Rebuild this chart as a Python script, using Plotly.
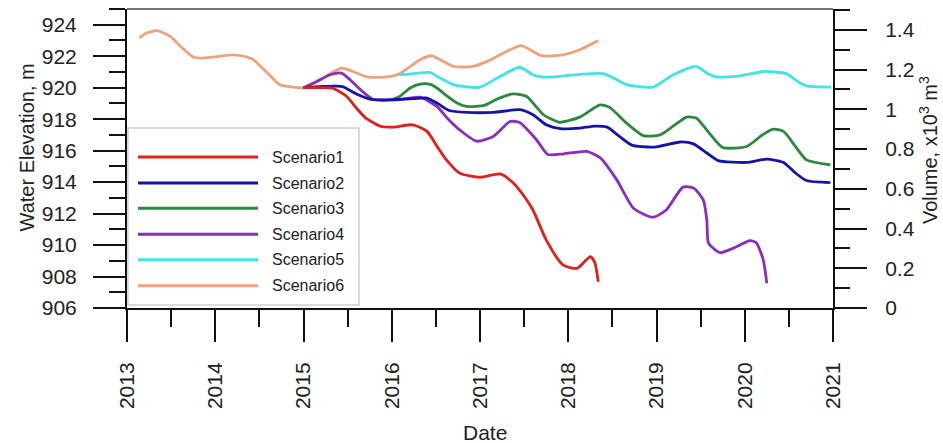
import plotly.graph_objects as go

# ---------------- data ----------------
s1_x = [2015.0, 2015.2, 2015.34, 2015.49, 2015.6, 2015.70, 2015.87, 2016.02, 2016.24, 2016.40, 2016.51,
        2016.62, 2016.77, 2017.0, 2017.23, 2017.38, 2017.50, 2017.60, 2017.75, 2017.94, 2018.10, 2018.25,
        2018.30, 2018.34]
s1_y = [920.0, 920.0, 919.95, 919.44, 918.7, 918.1, 917.55, 917.5, 917.64, 917.22, 916.3,
        915.41, 914.57, 914.31, 914.52, 913.93, 913.1, 912.23, 910.33, 908.74, 908.52, 909.26,
        908.9, 907.67]

s2_x = [2015.0, 2015.2, 2015.38, 2015.45, 2015.60, 2015.77, 2016.06, 2016.25, 2016.40, 2016.52, 2016.65,
        2016.85, 2017.15, 2017.45, 2017.60, 2017.75, 2017.91, 2018.13, 2018.30, 2018.44, 2018.58, 2018.72,
        2018.96, 2019.27, 2019.42, 2019.57, 2019.70, 2020.02, 2020.25, 2020.44, 2020.57, 2020.70, 2020.97]
s2_y = [920.0, 920.08, 920.1, 920.05, 919.6, 919.25, 919.25, 919.3, 919.34, 919.0, 918.55,
        918.43, 918.43, 918.6, 918.28, 917.64, 917.4, 917.43, 917.56, 917.49, 916.9, 916.35,
        916.22, 916.55, 916.43, 915.85, 915.36, 915.25, 915.46, 915.25, 914.6, 914.1, 913.97]

s3_x = [2016.00, 2016.09, 2016.2, 2016.32, 2016.43, 2016.52, 2016.62, 2016.75, 2016.85, 2017.05, 2017.2,
        2017.38, 2017.53, 2017.62, 2017.72, 2017.90, 2018.13, 2018.36, 2018.47, 2018.65, 2018.85, 2019.04,
        2019.20, 2019.34, 2019.45, 2019.60, 2019.75, 2020.02, 2020.20, 2020.32, 2020.44, 2020.57, 2020.70,
        2020.97]
s3_y = [919.25, 919.44, 919.95, 920.22, 920.22, 919.95, 919.5, 919.0, 918.81, 918.88, 919.3,
        919.61, 919.44, 918.9, 918.28, 917.8, 918.13, 918.91, 918.75, 917.8, 916.95, 917.0,
        917.6, 918.13, 918.07, 917.1, 916.2, 916.26, 917.0, 917.37, 917.22, 916.3, 915.41,
        915.10]

s4_x = [2015.0, 2015.15, 2015.30, 2015.43, 2015.53, 2015.65, 2015.79, 2016.06, 2016.32, 2016.51, 2016.64,
        2016.77, 2016.96, 2017.15, 2017.34, 2017.45, 2017.64, 2017.77, 2017.95, 2018.21, 2018.36, 2018.55,
        2018.74, 2018.96, 2019.11, 2019.30, 2019.42, 2019.53, 2019.57, 2019.59, 2019.72, 2019.87, 2020.06,
        2020.13, 2020.21, 2020.25]
s4_y = [920.0, 920.4, 920.82, 920.93, 920.5, 919.85, 919.25, 919.23, 919.4, 918.81, 918.0,
        917.32, 916.6, 916.9, 917.85, 917.79, 916.69, 915.75, 915.8, 915.95, 915.55, 914.14,
        912.34, 911.77, 912.23, 913.68, 913.62, 912.87, 911.6, 910.12, 909.52, 909.80, 910.28,
        910.15, 909.05, 907.57]

s5_x = [2016.09, 2016.25, 2016.43, 2016.55, 2016.70, 2016.85, 2017.0, 2017.23, 2017.45, 2017.60, 2017.70,
        2017.83, 2018.13, 2018.40, 2018.55, 2018.66, 2018.96, 2019.19, 2019.45, 2019.58, 2019.68, 2019.95,
        2020.21, 2020.47, 2020.60, 2020.70, 2020.98]
s5_y = [920.82, 920.9, 920.97, 920.6, 920.19, 920.05, 920.03, 920.72, 921.3, 920.82, 920.68,
        920.68, 920.85, 920.89, 920.5, 920.19, 920.04, 920.82, 921.35, 920.9, 920.68, 920.75,
        921.03, 920.89, 920.4, 920.12, 920.04]

s6_x = [2013.14, 2013.22, 2013.34, 2013.49, 2013.62, 2013.75, 2013.83, 2013.98, 2014.20, 2014.36, 2014.43,
        2014.58, 2014.73, 2014.88, 2015.0, 2015.19, 2015.43, 2015.56, 2015.72, 2015.94, 2016.09, 2016.32,
        2016.45, 2016.70, 2016.92, 2017.08, 2017.34, 2017.47, 2017.70, 2017.94, 2018.13, 2018.34]
s6_y = [923.16, 923.47, 923.62, 923.26, 922.55, 921.95, 921.88, 921.95, 922.09, 921.95, 921.78,
        921.0, 920.19, 920.04, 920.0, 920.5, 921.25, 921.03, 920.68, 920.68, 920.89, 921.78,
        922.03, 921.35, 921.35, 921.67, 922.41, 922.67, 922.03, 922.09, 922.41, 923.0]

names = ["Scenario1", "Scenario2", "Scenario3", "Scenario4", "Scenario5", "Scenario6"]
colors = ["#e0201c", "#1414a8", "#2a8a3c", "#8a2cc0", "#40e4e4", "#eea27a"]
series_x = [s1_x, s2_x, s3_x, s4_x, s5_x, s6_x]
series_y = [s1_y, s2_y, s3_y, s4_y, s5_y, s6_y]

year_ticks = list(range(2013, 2022))
elev_ticks = list(range(906, 925, 2))
vol_ticks = [0, 0.2, 0.4, 0.6, 0.8, 1.0, 1.2, 1.4]
vol_labels = ["0", "0.2", "0.4", "0.6", "0.8", "1", "1.2", "1.4"]
vol_minor_ticks = [0.1, 0.3, 0.5, 0.7, 0.9, 1.1, 1.3, 1.5]

FONT = "Arial, 'Liberation Sans', sans-serif"
TXT = "#222222"
VOL_RANGE = [0, 1.505]

fig = go.Figure()
for nm, c, xs, ys in reversed(list(zip(names, colors, series_x, series_y))):
    fig.add_trace(go.Scatter(x=xs, y=ys, name=nm, mode="lines",
                             line=dict(color=c, width=2.8, shape="spline", smoothing=0.6),
                             showlegend=False, hoverinfo="skip"))

# invisible traces to activate the volume axes
for ax in ("y2", "y3"):
    fig.add_trace(go.Scatter(x=[2013], y=[0], yaxis=ax, mode="markers",
                             marker=dict(opacity=0), showlegend=False, hoverinfo="skip"))

def axis_style(minor_dtick=None, minor_tick0=None, minor_len=None, standoff=12):
    d = dict(ticks="outside", tickcolor="#111", tickwidth=2, ticklen=32,
             showline=True, linecolor="#111", linewidth=2, showgrid=False, zeroline=False,
             ticklabelstandoff=standoff,
             tickfont=dict(family=FONT, size=21, color=TXT))
    if minor_dtick is not None:
        d["minor"] = dict(ticks="outside", dtick=minor_dtick, tick0=minor_tick0, ticklen=minor_len,
                          tickwidth=2, tickcolor="#111", showgrid=False)
    return d

fig.update_layout(
    width=943, height=443,
    margin=dict(l=127, r=110, t=9, b=135),
    paper_bgcolor="white", plot_bgcolor="white",
    showlegend=False,
    xaxis=dict(range=[2013, 2021], tickmode="array", tickvals=year_ticks,
               ticktext=[str(y) for y in year_ticks], tickangle=-90,
               **axis_style(0.5, 2013, 17)),
    yaxis=dict(range=[906, 925], tickmode="array", tickvals=elev_ticks,
               **axis_style(1, 906, 16)),
    yaxis2=dict(range=VOL_RANGE, overlaying="y", side="right", anchor="x", tickmode="array",
                tickvals=vol_ticks, ticktext=vol_labels, **axis_style(standoff=14)),
    yaxis3=dict(range=VOL_RANGE, overlaying="y", side="right", anchor="x", tickmode="array",
                tickvals=vol_minor_ticks, showticklabels=False, ticks="outside", ticklen=16,
                tickwidth=2, tickcolor="#111", showline=False, showgrid=False, zeroline=False),
)

shapes = [dict(type="line", xref="paper", yref="paper", x0=0, x1=1, y0=1, y1=1,
               line=dict(color="#777777", width=2))]
annotations = [
    dict(text="Water Elevation, m", xref="paper", yref="paper", x=-0.1416, y=0.537,
         textangle=-90, showarrow=False, font=dict(family=FONT, size=20, color=TXT),
         xanchor="center", yanchor="middle"),
    dict(text="Volume, x10<sup>3</sup> m<sup>3</sup>", xref="paper", yref="paper", x=1.1345, y=0.528,
         textangle=-90, showarrow=False, font=dict(family=FONT, size=20, color=TXT),
         xanchor="center", yanchor="middle"),
    dict(text="Date", xref="paper", yref="paper", x=0.507, y=-0.415, showarrow=False,
         font=dict(family=FONT, size=21, color=TXT), xanchor="center", yanchor="middle"),
]

# legend box
shapes.append(dict(type="rect", xref="paper", yref="paper", x0=0.0014, x1=0.3286, y0=0.010, y1=0.602,
                   line=dict(color="#cfcfcf", width=1.5), fillcolor="white", layer="above"))
leg_rows = [0.505, 0.418, 0.334, 0.247, 0.161, 0.074]
for nm, c, yr in zip(names, colors, leg_rows):
    shapes.append(dict(type="line", xref="paper", yref="paper", x0=0.0156, x1=0.1856, y0=yr, y1=yr,
                       line=dict(color=c, width=3), layer="above"))
    annotations.append(dict(text=nm, xref="paper", yref="paper", x=0.2025, y=yr, showarrow=False,
                            xanchor="left", yanchor="middle",
                            font=dict(family=FONT, size=16, color=TXT)))

fig.update_layout(shapes=shapes, annotations=annotations)
fig.write_html("out.html", config={"displayModeBar": False},
               post_script="document.body.style.margin='0';document.body.style.padding='0';")
